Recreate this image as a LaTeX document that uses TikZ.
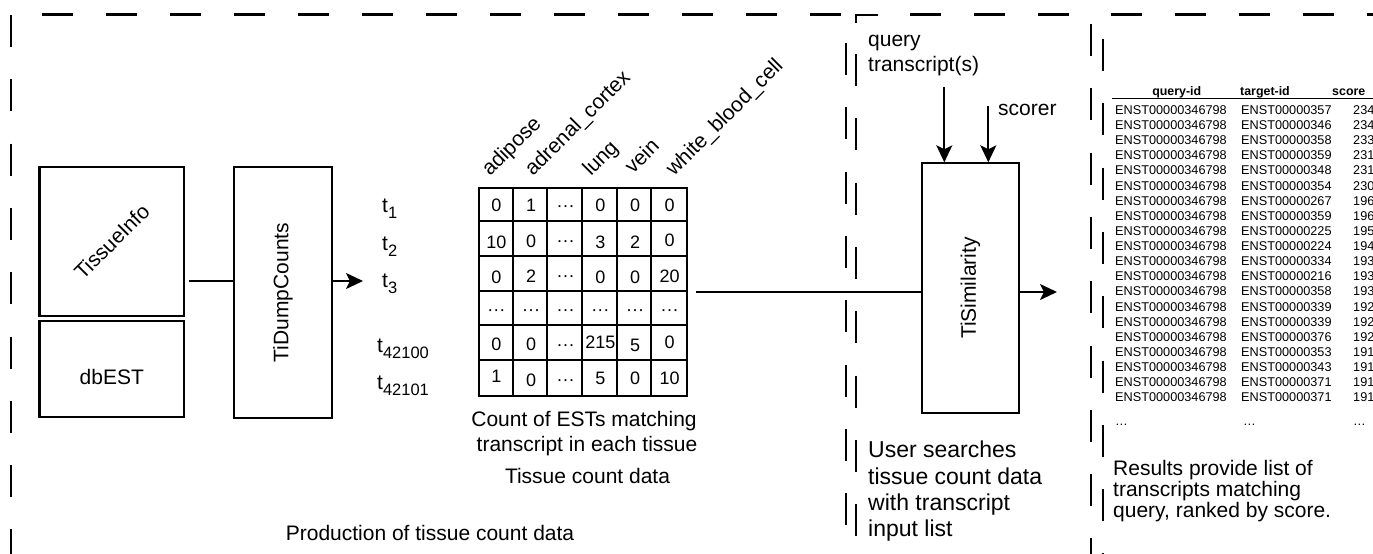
\documentclass[tikz,border=0pt]{standalone}
\usepackage{fontspec}
\setmainfont{Liberation Sans}
\usetikzlibrary{arrows.meta}
\newcommand\myfs[2]{\fontsize{#1}{#2}\selectfont}
\newcommand\tsub[1]{t\raisebox{-6pt}{\myfs{16.5}{16.5}#1}}
\newcommand\cdd{\raisebox{0pt}[12.9pt][0pt]{···}}
\newcommand\shiftd[2]{\raisebox{-#1pt}[\height][\depth]{#2}}
\newcommand\shiftu[2]{\raisebox{#1pt}[\height][\depth]{#2}}
\newcommand\mrow[7]{%
  \node[cell] (c#1-1) at (479+34.667*0.5, 188+34.667*#1-17.333) {#2};
  \node[cell] (c#1-2) at (479+34.667*1.5, 188+34.667*#1-17.333) {#3};
  \node[cell] (c#1-3) at (479+34.667*2.5, 188+34.667*#1-17.333) {#4};
  \node[cell] (c#1-4) at (479+34.667*3.5, 188+34.667*#1-17.333) {#5};
  \node[cell] (c#1-5) at (479+34.667*4.5, 188+34.667*#1-17.333) {#6};
  \node[cell] (c#1-6) at (479+34.667*5.5, 188+34.667*#1-17.333) {#7};
}
\tikzset{
  boxthick/.style={draw, line width=2.2pt, inner sep=0pt, font=\myfs{21}{25}},
  boxthin/.style={draw, line width=1.5pt, inner sep=0pt, font=\myfs{21}{25}},
  lab/.style={inner sep=0pt, font=\myfs{21}{25}},
  labbig/.style={inner sep=0pt, font=\myfs{23}{26.5}},
  conn/.style={line width=2pt},
  arr/.style={conn, -{Stealth[length=17pt,width=16pt,inset=4pt]}},
  hborder/.style={line width=2.2pt, dash pattern=on 31pt off 33pt},
  vborder/.style={line width=2pt, dash pattern=on 32pt off 32.3pt},
  cell/.style={inner sep=0pt, font=\myfs{18}{18}},
  tbl/.style={inner sep=0pt, font=\myfs{12.7}{15}, anchor=base west},
  tblh/.style={inner sep=0pt, font=\myfs{12.4}{15}\bfseries},
}
\begin{document}
\begin{tikzpicture}[x=1pt,y=-1pt]
\useasboundingbox (0,0) rectangle (1373,554);

% dashed panel borders
\draw[hborder] (42,14.5) -- (845,14.5);
\draw[hborder] (910,14.5) -- (1072,14.5);
\draw[hborder] (1111,14.5) -- (1373,14.5);
\draw[vborder] (11,15) -- (11,554);
\draw[vborder] (846,43) -- (846,554);
\draw[line width=2pt] (878,14.5) -- (856,14.5) -- (856,23);
\draw[vborder] (856,54) -- (856,554);
\draw[vborder] (1091,24) -- (1091,554);
\draw[vborder] (1103,39) -- (1103,554);

% production panel
\node[boxthick, minimum width=144.5pt, minimum height=149pt] (tinfo) at (111.75,241.5) {\rotatebox{45}{TissueInfo}};
\node[boxthick, minimum width=144.5pt, minimum height=96pt] (dbest) at (111.75,369) {\shiftd{7.5}{dbEST}};
\node[boxthin, minimum width=98pt, minimum height=251pt] (dump) at (283,292.5) {\rotatebox{90}{TiDumpCounts}};

\coordinate (dtip) at (363,281);
\draw[conn, shorten <=4pt] (tinfo.east |- dtip) -- (dump.west |- dtip);
\draw[arr] (dump.east |- dtip) -- (dtip);

\node[lab, anchor=base west] (t1) at (382,212) {\tsub{1}};
\node[lab, anchor=base west] (t2) at (382,250) {\tsub{2}};
\node[lab, anchor=base west] (t3) at (382,287) {\tsub{3}};
\node[lab, anchor=base west] (t42100) at (377,352) {\tsub{42100}};
\node[lab, anchor=base west] (t42101) at (377,389) {\tsub{42101}};

% matrix
\node[draw, line width=2.4pt, minimum width=208pt, minimum height=208pt, inner sep=0pt] (mat) at (583.15,292) {};
\foreach \i in {1,...,5} {
  \draw[line width=2pt] ([xshift=\i*34.667pt]mat.north west) -- ([xshift=\i*34.667pt]mat.south west);
  \draw[line width=2pt] ([yshift=-\i*34.667pt]mat.north west) -- ([yshift=-\i*34.667pt]mat.north east);
}
\mrow{1}{0}{1}{\cdd}{0}{0}{0}
\mrow{2}{\shiftd{2}{10}}{\shiftd{1}{0}}{\cdd}{\shiftd{2}{3}}{\shiftd{2}{2}}{0}
\mrow{3}{\shiftd{3}{0}}{\shiftd{1.5}{2}}{\cdd}{\shiftd{3}{0}}{\shiftd{3}{0}}{\shiftd{1.5}{20}}
\mrow{4}{\cdd}{\cdd}{\cdd}{\cdd}{\cdd}{\cdd}
\mrow{5}{0}{0}{\cdd}{\shiftu{1.5}{215}}{\shiftd{1.5}{5}}{\shiftu{2}{0}}
\mrow{6}{\shiftu{2}{1}}{\shiftd{1.5}{0}}{\cdd}{5}{0}{10}

\node[lab, rotate=45, anchor=base west] (hadi) at (490,177) {adipose};
\node[lab, rotate=45, anchor=base west] (hadr) at (533,177) {adrenal\_cortex};
\node[lab, rotate=45, anchor=base west] (hlun) at (591,177) {lung};
\node[lab, rotate=45, anchor=base west] (hvei) at (633,175) {vein};
\node[lab, rotate=45, anchor=base west] (hwbc) at (674,177) {white\_blood\_cell};

\node[lab, anchor=base] (cnt1) at (584,426.5) {Count of ESTs matching};
\node[lab, anchor=base] (cnt2) at (587,451.7) {transcript in each tissue};
\node[lab, anchor=base] (tcd) at (587.5,483.3) {Tissue count data};
\node[lab, anchor=base] (prod) at (430,540) {Production of tissue count data};

% search panel
\node[boxthin, line width=1.4pt, minimum width=97pt, minimum height=250pt] (sim) at (970.5,288) {\rotatebox{90}{TiSimilarity}};
\draw[conn, shorten <=8pt] (mat.east) -- (sim.west |- mat.east);
\coordinate (otip) at (1057,292);
\draw[arr] (sim.east |- otip) -- (otip);

\node[lab, anchor=base west] (q1) at (868,46.7) {query};
\node[lab, anchor=base west] (q2) at (868,71.7) {transcript(s)};
\node[lab, anchor=base west] (scorer) at (998,115) {scorer};
\coordinate (qs) at (944.3,87);
\coordinate (ss) at (988.3,106);
\draw[arr] (qs) -- (qs |- sim.north);
\draw[arr] (ss) -- (ss |- sim.north);

\node[labbig, anchor=base west] (u1) at (868,457.6) {User searches};
\node[labbig, anchor=base west] (u2) at (868,484.1) {tissue count data};
\node[labbig, anchor=base west] (u3) at (868,510.6) {with transcript};
\node[labbig, anchor=base west] (u4) at (868,536) {input list};

% results panel
\node[tblh, anchor=base] (hq) at (1176.7,95) {query-id};
\node[tblh, anchor=base west] (ht) at (1240,95) {target-id};
\node[tblh, anchor=base west] (hs) at (1332,95) {score};
\draw[line width=1.6pt] (1112,98.5) -- (1373,98.5);
\foreach \tid/\sc [count=\i] in {357/234,346/234,358/233,359/231,348/231,354/230,267/196,359/196,225/195,224/194,334/193,216/193,358/193,339/192,339/192,376/192,353/191,343/191,371/191,371/191} {
  \node[tbl] (rq\i) at (1115,114.5+15.12*\i-15.12) {ENST00000346798};
  \node[tbl] (rt\i) at (1241,114.5+15.12*\i-15.12) {ENST00000\tid};
  \node[tbl] (rs\i) at (1353,114.5+15.12*\i-15.12) {\sc};
}
\node[tbl] (dq) at (1115,425) {…};
\node[tbl] (dt) at (1243,425) {…};
\node[tbl] (ds) at (1353,425) {…};

\node[lab, anchor=base west] (r1) at (1113,475.5) {Results provide list of};
\node[lab, anchor=base west] (r2) at (1113,496.5) {transcripts matching};
\node[lab, anchor=base west] (r3) at (1113,517.3) {query, ranked by score.};
\end{tikzpicture}
\end{document}
